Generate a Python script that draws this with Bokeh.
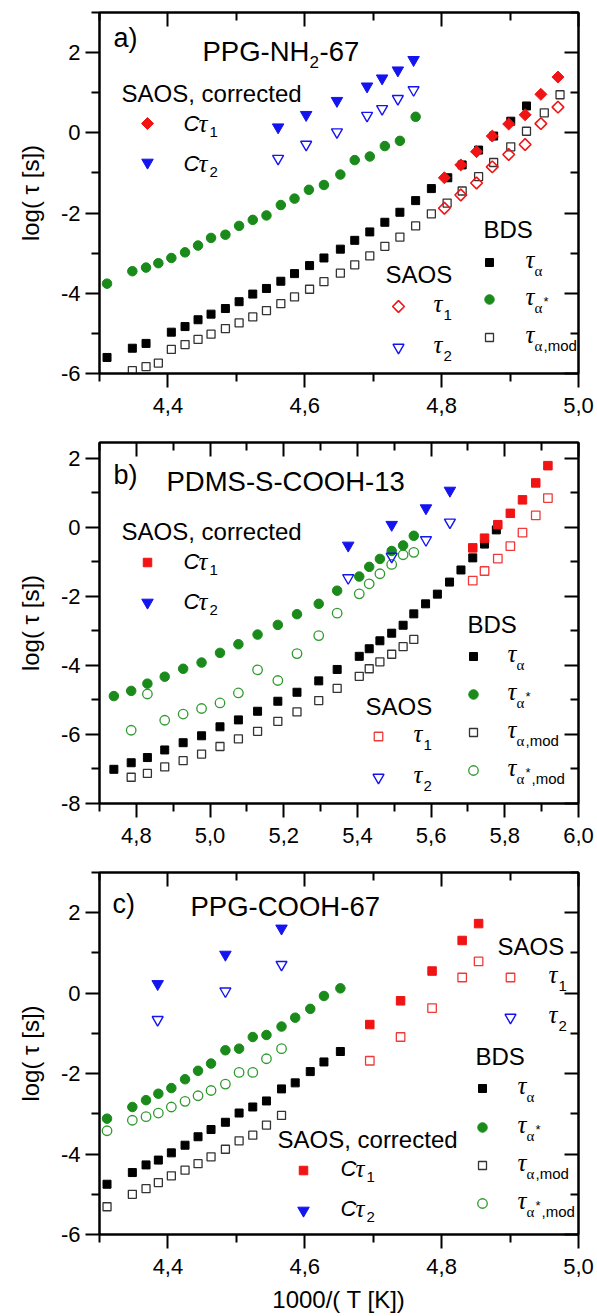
from bokeh.plotting import figure
from bokeh.layouts import column
from bokeh.models import Range1d, LinearAxis, FixedTicker, CustomJSTickFormatter, Label
from bokeh.embed import file_html
from bokeh.resources import INLINE

# ---------------- data ----------------
# Panel a) PPG-NH2-67
A_X_ALPHA = [4.311, 4.348, 4.368, 4.405, 4.425, 4.444, 4.463, 4.484, 4.504, 4.524,
             4.544, 4.565, 4.585, 4.607, 4.628, 4.652, 4.673, 4.695, 4.717, 4.739,
             4.762, 4.785, 4.809, 4.830, 4.854, 4.876, 4.901, 4.924]
A_ALPHA = [-5.60, -5.37, -5.25, -4.97, -4.83, -4.66, -4.52, -4.38, -4.21, -4.02,
           -3.88, -3.70, -3.51, -3.31, -3.12, -2.90, -2.68, -2.47, -2.23, -1.98,
           -1.69, -1.39, -1.12, -0.80, -0.43, -0.08, 0.29, 0.67]
A_X_AMOD = [4.348, 4.368, 4.386, 4.405, 4.425, 4.444, 4.463, 4.484, 4.504, 4.524,
            4.544, 4.565, 4.585, 4.607, 4.628, 4.652, 4.673, 4.695, 4.717, 4.739,
            4.762, 4.785, 4.808, 4.830, 4.854, 4.876, 4.901, 4.924, 4.950, 4.973]
A_AMOD = [-5.93, -5.83, -5.74, -5.40, -5.28, -5.15, -5.02, -4.88, -4.74, -4.59,
          -4.43, -4.26, -4.09, -3.90, -3.71, -3.50, -3.29, -3.07, -2.83, -2.60,
          -2.32, -2.02, -1.75, -1.45, -1.09, -0.74, -0.35, 0.04, 0.50, 0.95]
A_X_ASTAR = [4.311, 4.348, 4.368, 4.386, 4.405, 4.425, 4.444, 4.463, 4.484, 4.504,
             4.524, 4.544, 4.565, 4.585, 4.606, 4.628, 4.652, 4.673, 4.695, 4.717,
             4.739, 4.762]
A_ASTAR = [-3.76, -3.45, -3.36, -3.25, -3.12, -2.98, -2.81, -2.62, -2.54, -2.32,
           -2.17, -2.06, -1.80, -1.64, -1.42, -1.30, -1.04, -0.68, -0.59, -0.33,
           -0.20, 0.40]
A_X_T1 = [4.804, 4.828, 4.851, 4.874, 4.898, 4.922, 4.945, 4.970]
A_CT1 = [-1.12, -0.80, -0.47, -0.08, 0.22, 0.45, 0.96, 1.39]
A_T1 = [-1.88, -1.55, -1.25, -0.85, -0.54, -0.29, 0.23, 0.64]
A_X_T2 = [4.561, 4.602, 4.647, 4.691, 4.713, 4.736, 4.759]
A_CT2 = [0.14, 0.45, 0.80, 1.16, 1.36, 1.56, 1.82]
A_T2 = [-0.64, -0.29, 0.02, 0.43, 0.60, 0.85, 1.07]

# Panel b) PDMS-S-COOH-13
B_X_ALPHA = [4.739, 4.786, 4.830, 4.877, 4.927, 4.977, 5.027, 5.077, 5.129, 5.184,
             5.236, 5.295, 5.345, 5.405, 5.432, 5.461, 5.493, 5.524, 5.553, 5.585,
             5.617, 5.650, 5.681, 5.713, 5.745, 5.777]
B_ALPHA = [-7.01, -6.82, -6.67, -6.45, -6.24, -6.04, -5.78, -5.58, -5.33, -5.04,
           -4.78, -4.45, -4.12, -3.74, -3.52, -3.29, -3.07, -2.84, -2.51, -2.22,
           -1.94, -1.59, -1.24, -0.89, -0.49, -0.08]
B_X_AMOD = [4.786, 4.830, 4.877, 4.927, 4.977, 5.027, 5.077, 5.129, 5.184, 5.236,
            5.295, 5.345, 5.405, 5.432, 5.461, 5.493, 5.524, 5.553]
B_AMOD = [-7.24, -7.13, -6.94, -6.76, -6.57, -6.35, -6.13, -5.91, -5.62, -5.35,
          -5.02, -4.67, -4.32, -4.10, -3.90, -3.68, -3.46, -3.25]
B_X_ASTAR = [4.739, 4.786, 4.830, 4.877, 4.927, 4.977, 5.027, 5.077, 5.129, 5.184,
             5.236, 5.295, 5.345, 5.405, 5.432, 5.461, 5.493, 5.524, 5.553]
B_ASTAR = [-4.89, -4.74, -4.53, -4.33, -4.10, -3.92, -3.64, -3.39, -3.11, -2.83,
           -2.52, -2.22, -1.84, -1.43, -1.15, -0.92, -0.69, -0.53, -0.25]
B_X_ASMOD = [4.786, 4.830, 4.877, 4.927, 4.977, 5.027, 5.077, 5.129, 5.184, 5.236,
             5.295, 5.345, 5.405, 5.432, 5.461, 5.493, 5.524, 5.553]
B_ASMOD = [-5.88, -4.83, -5.59, -5.41, -5.25, -5.09, -4.80, -4.13, -4.44, -3.66,
           -3.14, -2.49, -1.93, -1.64, -1.35, -1.08, -0.80, -0.73]
B_X_T1 = [5.713, 5.745, 5.781, 5.815, 5.848, 5.884, 5.917]
B_CT1 = [-0.60, -0.32, 0.07, 0.40, 0.79, 1.28, 1.78]
B_T1 = [-1.55, -1.27, -0.91, -0.55, -0.16, 0.34, 0.84]
B_X_T2 = [5.375, 5.493, 5.586, 5.651]
B_CT2 = [-0.53, 0.07, 0.55, 1.06]
B_T2 = [-1.47, -0.85, -0.37, 0.14]

# Panel c) PPG-COOH-67
C_X_ALPHA = [4.311, 4.348, 4.368, 4.386, 4.405, 4.425, 4.444, 4.463, 4.484, 4.504,
             4.524, 4.544, 4.566, 4.586, 4.608, 4.628, 4.652]
C_ALPHA = [-4.75, -4.46, -4.27, -4.15, -3.97, -3.78, -3.57, -3.39, -3.21, -2.98,
           -2.83, -2.68, -2.38, -2.23, -1.95, -1.71, -1.45]
C_X_ASTAR = C_X_ALPHA
C_ASTAR = [-3.12, -2.83, -2.66, -2.50, -2.36, -2.14, -1.93, -1.75, -1.42, -1.38,
           -1.09, -1.04, -0.83, -0.61, -0.39, -0.07, 0.12]
C_X_MOD = [4.311, 4.348, 4.368, 4.386, 4.405, 4.425, 4.444, 4.463, 4.484, 4.504,
           4.524, 4.544, 4.566]
C_AMOD = [-5.31, -5.00, -4.86, -4.71, -4.54, -4.40, -4.24, -4.07, -3.88, -3.67,
          -3.53, -3.28, -3.04]
C_ASMOD = [-3.42, -3.16, -3.07, -2.98, -2.83, -2.69, -2.55, -2.42, -2.26, -1.97,
           -1.97, -1.63, -1.38]
C_X_T1 = [4.695, 4.740, 4.786, 4.830, 4.854]
C_CT1 = [-0.78, -0.19, 0.55, 1.31, 1.73]
C_T1 = [-1.68, -1.09, -0.37, 0.39, 0.79]
C_X_T2 = [4.385, 4.484, 4.566]
C_CT2 = [0.23, 0.96, 1.61]
C_T2 = [-0.66, 0.05, 0.71]

X_TICKS_AC = [4.4, 4.6, 4.8, 5.0]
X_MINOR_AC = [4.3, 4.5, 4.7, 4.9]
X_TICKS_B = [4.8, 5.0, 5.2, 5.4, 5.6, 5.8, 6.0]
X_MINOR_B = [4.7, 4.9, 5.1, 5.3, 5.5, 5.7, 5.9]
Y_TICKS_AC = [-6, -4, -2, 0, 2]
Y_MINOR_AC = [-5, -3, -1, 1, 3]
Y_TICKS_B = [-8, -6, -4, -2, 0, 2]
Y_MINOR_B = [-7, -5, -3, -1, 1]

# ---------------- styling ----------------
SANS = "Liberation Sans"
SERIF = "Liberation Serif"
RED = "#f01414"
BLUE = "#1414f0"
GREEN = "#1a8a1a"
GREEN_O = "#2f9a2f"
BLACK = "#000000"

W = 597
LEFT, RIGHT = 99, 578  # frame edges, page px
TEXT_DY = -9           # baseline correction for Label text
# page-pixel frame geometry per panel: top, bottom, x0, x1, y0, y1
FRAME = {
    "a": (12, 373, 4.3, 5.0, -6.0, 3.0),
    "b": (442, 803, 4.7, 6.0, -8.0, 2.45),
    "c": (872, 1234, 4.3, 5.0, -6.0, 3.0),
}


def P(pn, px, py):
    top, bot, x0, x1, y0, y1 = FRAME[pn]
    x = x0 + (px - LEFT) / (RIGHT - LEFT) * (x1 - x0)
    y = y1 - (py - top) / (bot - top) * (y1 - y0)
    return x, y


def fmt_js():
    return CustomJSTickFormatter(code="return tick.toFixed(1).replace('.', ',');")


def make_fig(pn, height, btop, bbot, xt, xm, yt, ym, xlabel=None):
    top, bot, x0, x1, y0, y1 = FRAME[pn]
    p = figure(width=W, height=height, x_range=Range1d(x0, x1), y_range=Range1d(y0, y1),
               output_backend="svg", toolbar_location=None,
               min_border_left=LEFT, min_border_right=W - RIGHT,
               min_border_top=btop, min_border_bottom=bbot)
    p.grid.visible = False
    p.outline_line_color = "black"
    p.outline_line_width = 2
    p.background_fill_color = "white"
    p.border_fill_color = "white"

    xa = p.xaxis[0]
    xa.ticker = FixedTicker(ticks=xt, minor_ticks=xm)
    xa.formatter = fmt_js()
    ya = p.yaxis[0]
    ya.ticker = FixedTicker(ticks=yt, minor_ticks=ym)
    ya.formatter = CustomJSTickFormatter(code="return tick.toFixed(0);")
    for ax in (xa, ya):
        ax.axis_line_width = 2
        ax.major_tick_line_width = 2
        ax.minor_tick_line_width = 2
        ax.major_tick_in = 0
        ax.major_tick_out = 14
        ax.minor_tick_in = 0
        ax.minor_tick_out = 8
        ax.major_label_text_font = SANS
        ax.major_label_text_font_size = "22px"
        ax.major_label_text_color = "black"
        ax.axis_label_text_font = SANS
        ax.axis_label_text_font_style = "normal"
        ax.axis_label_text_font_size = "24px"
        ax.axis_label_text_color = "black"
    xa.major_label_standoff = 10
    ya.major_label_standoff = 5
    ya.axis_label = "log( \u03c4 [s])"
    ya.axis_label_standoff = 14
    if xlabel:
        xa.axis_label = xlabel
        xa.axis_label_standoff = 9

    # mirrored axes with inward ticks
    for loc, tk, mn in (("above", xt, xm), ("right", yt, ym)):
        ax = LinearAxis(ticker=FixedTicker(ticks=tk, minor_ticks=mn),
                        formatter=CustomJSTickFormatter(code="return '';"))
        ax.axis_line_width = 2
        ax.major_tick_line_width = 2
        ax.minor_tick_line_width = 2
        ax.major_tick_in = 14
        ax.major_tick_out = 0
        ax.minor_tick_in = 8
        ax.minor_tick_out = 0
        ax.major_label_text_font_size = "0px"
        ax.major_label_standoff = 0
        p.add_layout(ax, loc)
    return p


def txt(p, pn, px, py, s, size, font=SANS, style="normal"):
    x, y = P(pn, px, py + TEXT_DY)
    p.add_layout(Label(x=x, y=y, text=s, text_font=font, text_font_size=f"{size}px",
                       text_font_style=style, text_baseline="alphabetic",
                       text_align="left", text_color="black"))


def tau(p, pn, px, pyb, parts):
    txt(p, pn, px, pyb, "\u03c4", 25, SERIF, "italic")
    for dx, dy, s, font, size in parts:
        txt(p, pn, px + dx, pyb + dy, s, size, font)


def ctau(p, pn, px, pyb, sub):
    txt(p, pn, px, pyb, "C", 22, SANS, "italic")
    tau(p, pn, px + 15, pyb, [(11, 8, sub, SANS, 15)])


def mk(p, pn, px, py, **kw):
    x, y = P(pn, px, py)
    p.scatter([x], [y], **kw)


# marker styles
S_ALPHA = dict(marker="square", size=8, fill_color=BLACK, line_color=BLACK)
S_AMOD = dict(marker="square", size=8, fill_alpha=0, line_color="#333333", line_width=1.3)
S_ASTAR = dict(marker="circle", size=9.5, fill_color=GREEN, line_color=GREEN)
S_ASMOD = dict(marker="circle", size=9.5, fill_alpha=0, line_color=GREEN_O, line_width=1.3)
S_CT1D = dict(marker="square", size=8.5, angle=0.7854, fill_color=RED, line_color=RED)
S_T1D = dict(marker="square", size=8.3, angle=0.7854, fill_alpha=0, line_color=RED, line_width=1.6)
S_CT1S = dict(marker="square", size=8.5, fill_color=RED, line_color=RED)
S_T1S = dict(marker="square", size=8.5, fill_alpha=0, line_color="#f03a3a", line_width=1.3)
S_CT2 = dict(marker="inverted_triangle", size=11.5, fill_color=BLUE, line_color=BLUE)
S_T2 = dict(marker="inverted_triangle", size=11, fill_alpha=0, line_color=BLUE, line_width=1.4)

# ---------------- panel a ----------------
pa = make_fig("a", 420, 12, 47, X_TICKS_AC, X_MINOR_AC, Y_TICKS_AC, Y_MINOR_AC)
pa.scatter(A_X_AMOD, A_AMOD, **S_AMOD)
pa.scatter(A_X_ALPHA, A_ALPHA, **S_ALPHA)
pa.scatter(A_X_ASTAR, A_ASTAR, **S_ASTAR)
pa.scatter(A_X_T1, A_T1, **S_T1D)
pa.scatter(A_X_T1, A_CT1, **S_CT1D)
pa.scatter(A_X_T2, A_T2, **S_T2)
pa.scatter(A_X_T2, A_CT2, **S_CT2)

txt(pa, "a", 113, 46, "a)", 27)
txt(pa, "a", 202, 60, "PPG-NH", 27.5)
txt(pa, "a", 309, 70, "2", 17)
txt(pa, "a", 319, 60, "-67", 27.5)
txt(pa, "a", 121, 102, "SAOS, corrected", 24)
mk(pa, "a", 147, 123, **S_CT1D)
ctau(pa, "a", 183, 132, "1")
mk(pa, "a", 147, 162, **S_CT2)
ctau(pa, "a", 183, 172, "2")
txt(pa, "a", 483, 238, "BDS", 24)
mk(pa, "a", 489, 262, **S_ALPHA)
tau(pa, "a", 525, 268, [(9, 11, "\u03b1", SERIF, 15)])
mk(pa, "a", 489, 299, **S_ASTAR)
tau(pa, "a", 525, 305, [(9, 11, "\u03b1", SERIF, 15), (18, 5, "*", SANS, 13)])
mk(pa, "a", 489, 337, **S_AMOD)
tau(pa, "a", 525, 343, [(9, 11, "\u03b1", SERIF, 15), (18, 11, ",mod", SANS, 15)])
txt(pa, "a", 385, 283, "SAOS", 24)
mk(pa, "a", 398, 306, **S_T1D)
tau(pa, "a", 433, 312, [(10, 11, "1", SANS, 15)])
mk(pa, "a", 398, 347, **S_T2)
tau(pa, "a", 433, 353, [(10, 11, "2", SANS, 15)])

# ---------------- panel b ----------------
pb = make_fig("b", 430, 22, 47, X_TICKS_B, X_MINOR_B, Y_TICKS_B, Y_MINOR_B)
pb.scatter(B_X_AMOD, B_AMOD, **S_AMOD)
pb.scatter(B_X_ALPHA, B_ALPHA, **S_ALPHA)
pb.scatter(B_X_ASMOD, B_ASMOD, **S_ASMOD)
pb.scatter(B_X_ASTAR, B_ASTAR, **S_ASTAR)
pb.scatter(B_X_T1, B_T1, **S_T1S)
pb.scatter(B_X_T1, B_CT1, **S_CT1S)
pb.scatter(B_X_T2, B_T2, **S_T2)
pb.scatter(B_X_T2, B_CT2, **S_CT2)

txt(pb, "b", 113, 483, "b)", 27)
txt(pb, "b", 166, 490, "PDMS-S-COOH-13", 27.5)
txt(pb, "b", 121, 540, "SAOS, corrected", 24)
mk(pb, "b", 147, 562, **S_CT1S)
ctau(pb, "b", 183, 570, "1")
mk(pb, "b", 147, 602, **S_CT2)
ctau(pb, "b", 183, 610, "2")
txt(pb, "b", 467, 633, "BDS", 24)
mk(pb, "b", 473, 656, **S_ALPHA)
tau(pb, "b", 507, 662, [(9, 11, "\u03b1", SERIF, 15)])
mk(pb, "b", 473, 694, **S_ASTAR)
tau(pb, "b", 507, 700, [(9, 11, "\u03b1", SERIF, 15), (18, 5, "*", SANS, 13)])
mk(pb, "b", 473, 732, **S_AMOD)
tau(pb, "b", 507, 738, [(9, 11, "\u03b1", SERIF, 15), (18, 11, ",mod", SANS, 15)])
mk(pb, "b", 473, 770, **S_ASMOD)
tau(pb, "b", 507, 776, [(9, 11, "\u03b1", SERIF, 15), (18, 5, "*", SANS, 13), (24, 11, ",mod", SANS, 15)])
txt(pb, "b", 365, 715, "SAOS", 24)
mk(pb, "b", 378, 736, **S_T1S)
tau(pb, "b", 413, 742, [(10, 11, "1", SANS, 15)])
mk(pb, "b", 378, 777, **S_T2)
tau(pb, "b", 413, 783, [(10, 11, "2", SANS, 15)])

# ---------------- panel c ----------------
pc = make_fig("c", 466, 22, 82, X_TICKS_AC, X_MINOR_AC, Y_TICKS_AC, Y_MINOR_AC,
              xlabel="1000/( T [K])")
pc.scatter(C_X_MOD, C_AMOD, **S_AMOD)
pc.scatter(C_X_ALPHA, C_ALPHA, **S_ALPHA)
pc.scatter(C_X_MOD, C_ASMOD, **S_ASMOD)
pc.scatter(C_X_ASTAR, C_ASTAR, **S_ASTAR)
pc.scatter(C_X_T1, C_T1, **S_T1S)
pc.scatter(C_X_T1, C_CT1, **S_CT1S)
pc.scatter(C_X_T2, C_T2, **S_T2)
pc.scatter(C_X_T2, C_CT2, **S_CT2)

txt(pc, "c", 112, 912, "c)", 27)
txt(pc, "c", 190, 915, "PPG-COOH-67", 27.5)
txt(pc, "c", 497, 955, "SAOS", 24)
mk(pc, "c", 510, 977, **S_T1S)
tau(pc, "c", 548, 983, [(10, 11, "1", SANS, 15)])
mk(pc, "c", 510, 1017, **S_T2)
tau(pc, "c", 548, 1023, [(10, 11, "2", SANS, 15)])
txt(pc, "c", 475, 1065, "BDS", 24)
mk(pc, "c", 482, 1088, **S_ALPHA)
tau(pc, "c", 517, 1094, [(9, 11, "\u03b1", SERIF, 15)])
mk(pc, "c", 482, 1127, **S_ASTAR)
tau(pc, "c", 517, 1133, [(9, 11, "\u03b1", SERIF, 15), (18, 5, "*", SANS, 13)])
mk(pc, "c", 482, 1165, **S_AMOD)
tau(pc, "c", 517, 1171, [(9, 11, "\u03b1", SERIF, 15), (18, 11, ",mod", SANS, 15)])
mk(pc, "c", 482, 1203, **S_ASMOD)
tau(pc, "c", 517, 1209, [(9, 11, "\u03b1", SERIF, 15), (18, 5, "*", SANS, 13), (24, 11, ",mod", SANS, 15)])
txt(pc, "c", 277, 1148, "SAOS, corrected", 24)
mk(pc, "c", 303, 1170, **S_CT1S)
ctau(pc, "c", 340, 1177, "1")
mk(pc, "c", 303, 1210, **S_CT2)
ctau(pc, "c", 340, 1217, "2")

layout = column(pa, pb, pc, spacing=0)
open("out.html", "w").write(file_html(layout, INLINE))
